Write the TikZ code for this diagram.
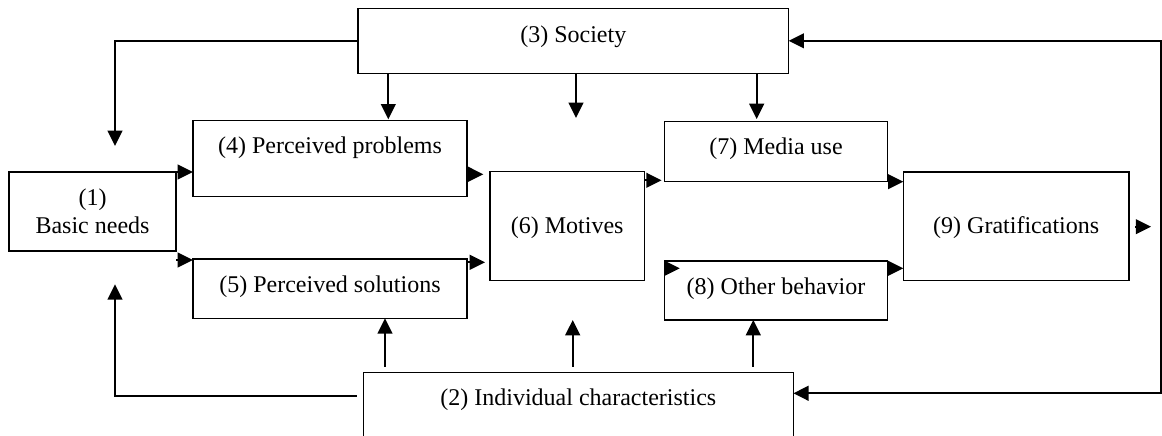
\documentclass[tikz,border=0pt]{standalone}
\usepackage{fontspec}
\setmainfont{Liberation Serif}
\usetikzlibrary{arrows.meta,calc}

\tikzset{
  box/.style={draw, line width=1.1pt, inner sep=0pt, outer sep=0pt, fill=white},
  lbl/.style={inner sep=0pt, anchor=base, font=\fontsize{18}{21.6}\selectfont},
  arr/.style={line width=1.7pt, -{Triangle[length=11.5pt,width=11pt]}},
}

\begin{document}
\begin{tikzpicture}[x=0.75pt, y=-0.75pt]
\useasboundingbox (0,0) rectangle (1162,435);
\clip (0,0) rectangle (1162,435);

% boxes
\node[box, minimum width=125.25pt, minimum height=59.25pt] (n1) at (92.5,211.5) {};
\node[box, minimum width=323pt,    minimum height=48.75pt] (n3) at (573.3,40.8) {};
\node[box, minimum width=205.5pt,  minimum height=57pt]    (n4) at (330,158.7) {};
\node[box, minimum width=205.5pt,  minimum height=44.5pt]  (n5) at (330,288.7) {};
\node[box, minimum width=115.7pt,  minimum height=81.75pt] (n6) at (567.2,226.2) {};
\node[box, minimum width=167.55pt, minimum height=45pt]    (n7) at (776,151.7) {};
\node[box, minimum width=167.55pt, minimum height=44.25pt] (n8) at (776,290.5) {};
\node[box, minimum width=169.3pt,  minimum height=81.2pt]  (n9) at (1016.2,226.2) {};
\node[box, minimum width=322.5pt,  minimum height=67.5pt]  (n2) at (578.3,417.3) {};

% labels
\node[lbl] (t1a) at ($(n1.north)+(0,33)$) {(1)};
\node[lbl] (t1b) at ($(n1.north)+(0,61)$) {Basic needs};
\node[lbl] (t3) at ($(n3.north)+(0,34)$) {(3) Society};
\node[lbl] (t4) at ($(n4.north)+(0,33)$) {(4) Perceived problems};
\node[lbl] (t5) at ($(n5.north)+(0,33)$) {(5) Perceived solutions};
\node[lbl] (t6) at ($(n6.north)+(0,61.5)$) {(6) Motives};
\node[lbl] (t7) at ($(n7.north)+(0,33)$) {(7) Media use};
\node[lbl] (t8) at ($(n8.north)+(0,33)$) {(8) Other behavior};
\node[lbl] (t9) at ($(n9.north)+(0,61.5)$) {(9) Gratifications};
\node[lbl] (t2) at ($(n2.north)+(0,33)$) {(2) Individual characteristics};

% free ends
\coordinate (toNeeds) at (115,146);
\coordinate (fromIndiv) at (115,284.3);
\coordinate (toMotivesTop) at (576,118);
\coordinate (toMotivesBot) at (572.7,320);
\coordinate (loop) at (1161,226.7);

% society influences
\draw[arr] (n3.west) -| (toNeeds);
\draw[arr, shorten >=1pt] (n3.south -| n4.north west) ++(195.3,0) coordinate (s4) -- (s4 |- n4.north);
\draw[arr] (n3.south -| toMotivesTop) -- (toMotivesTop);
\draw[arr, shorten >=2pt] (n3.south -| 756.7,0) -- (n7.north -| 756.7,0);

% individual characteristics influences
\draw[arr, shorten <=5pt] (n2.west |- 0,395.7) -| (fromIndiv);
\draw[arr, shorten <=4pt] (n2.north -| 385,0) -- (n5.south -| 385,0);
\draw[arr, shorten <=4pt] (n2.north -| toMotivesBot) -- (toMotivesBot);
\draw[arr, shorten <=4pt] (n2.north -| 753.3,0) -- (n8.south -| 753.3,0);

% main flow
\draw[arr] (n1.north east) -- (n4.west |- n1.north east);
\draw[arr] (n1.east |- 0,260) -- (n5.west |- 0,260);
\draw[arr, shorten >=5pt] (n4.east |- 0,174.3) -- (n6.west |- 0,174.3);
\draw[arr, shorten >=3.75pt] (n5.east |- 0,262.3) -- (n6.west |- 0,262.3);
\draw[arr, shorten >=2pt] (n6.east |- 0,180.3) -- (n7.west |- 0,180.3);
\draw[arr] (n8.west |- 0,268.3) -- ++(15.5,0);
\draw[arr] (n7.south east) -- (n9.west |- n7.south east);
\draw[arr] (n8.east |- 0,268.3) -- (n9.west |- 0,268.3);
\draw[arr, shorten <=4.5pt] (n9.east |- 0,226.7) -- ++(22,0);

% feedback loop
\draw[arr] (loop) |- (n3.east);
\draw[arr] (loop) |- (n2.east |- 0,393.3);
\end{tikzpicture}
\end{document}
